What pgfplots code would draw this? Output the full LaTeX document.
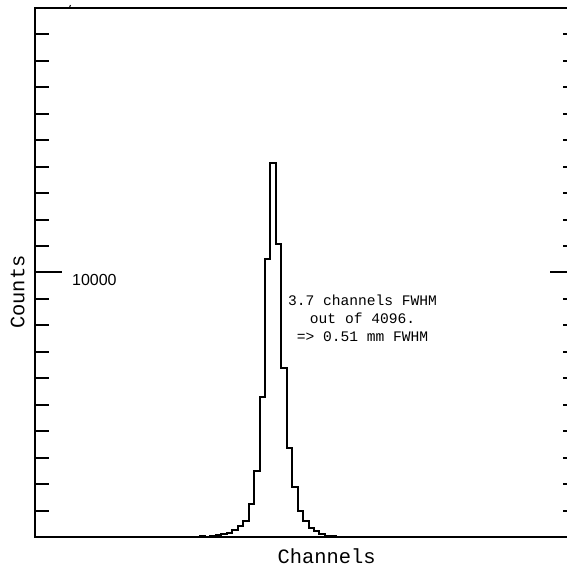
\documentclass[border=0pt]{standalone}
\usepackage{fontspec}
\usepackage{pgfplots}
\pgfplotsset{compat=1.18}
\newfontfamily\monofont{Liberation Mono}
\newfontfamily\labelfont{Liberation Sans}

\begin{document}
\begin{tikzpicture}
\useasboundingbox (0,0) rectangle (283.5pt,283.5pt);
\clip (0,0) rectangle (283.5pt,283.5pt);
\begin{axis}[
    at={(17.5pt,15pt)}, anchor=south west,
    scale only axis,
    width=271pt, height=264.5pt,
    xmin=-0.2, xmax=99.25,
    ymin=0, ymax=20000,
    axis line style={line width=1pt},
    xtick=\empty,
    ytick={0,10000,20000},
    yticklabels={},
    minor y tick num=9,
    major tick length=13.5pt,
    minor tick length=7pt,
    every tick/.style={black, line width=1pt},
    tick align=inside,
    clip=false,
]
% histogram, one bin per channel (left edges)
\addplot[const plot, black, line width=1pt] coordinates {
(0,0) (28,5) (29,10) (30,30) (31,8) (32,40) (33,76) (34,102) (35,163)
(36,265) (37,405) (38,594) (39,1248) (40,2495) (41,5304) (42,10522)
(43,14129) (44,11078) (45,6401) (46,3354) (47,1879) (48,994) (49,605)
(50,352) (51,208) (52,95) (53,38) (54,19) (55,10) (56,5) (57,0) (99.25,0)
};
\node[font=\labelfont\fontsize{8}{9}\selectfont] at (axis cs:10.7,9716) {10000};
\node[font=\monofont\fontsize{7.3}{9}\selectfont, align=center]
  at (axis cs:59.9,8280) {3.7 channels FWHM\\out of 4096.\\=> 0.51 mm FWHM};
\node[font=\monofont\fontsize{10.2}{12}\selectfont, rotate=90]
  at (rel axis cs:-0.032,0.463) {Counts};
\node[font=\monofont\fontsize{10.2}{12}\selectfont]
  at (rel axis cs:0.538,-0.036) {Channels};
\draw[line width=0.5pt] (axis cs:6.1,20000) -- ++(0,1.5pt);
\end{axis}
\end{tikzpicture}
\end{document}
